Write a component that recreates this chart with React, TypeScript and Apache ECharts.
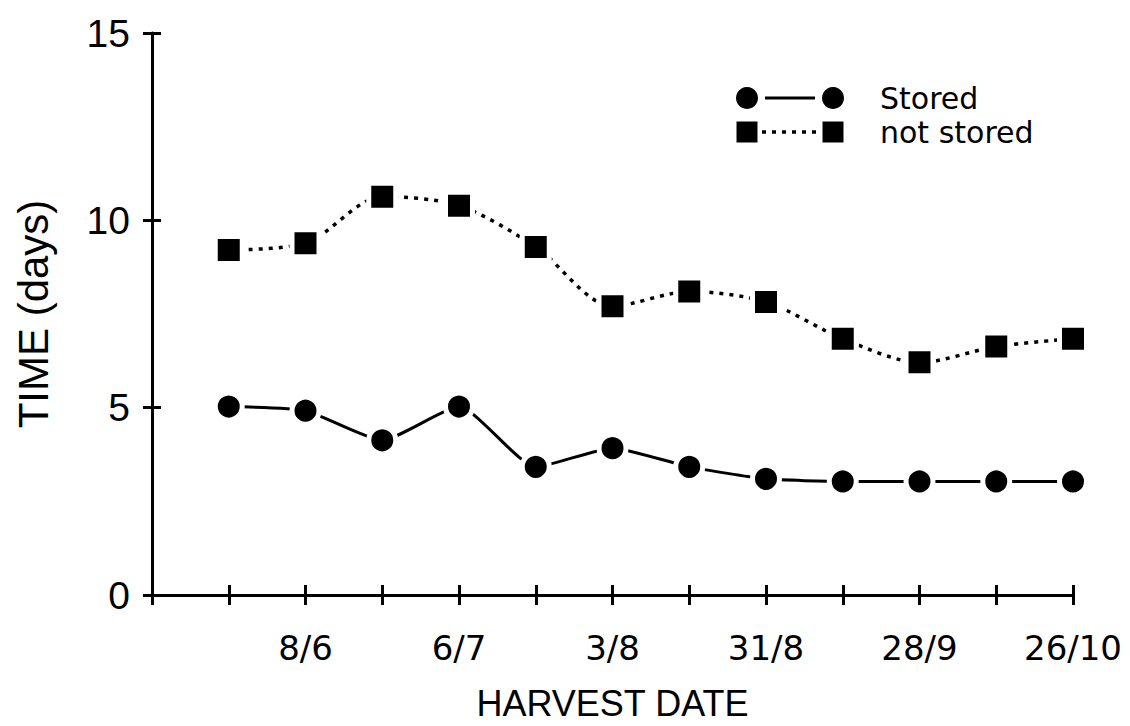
import React, { useEffect, useRef } from "react";
import * as echarts from "echarts";

const harvestPositions = [1, 2, 3, 4, 5, 6, 7, 8, 9, 10, 11, 12];
const xTickLabels = ["", "", "8/6", "", "6/7", "", "3/8", "", "31/8", "", "28/9", "", "26/10"];
const storedDays = [5.03, 4.92, 4.13, 5.03, 3.42, 3.92, 3.42, 3.1, 3.03, 3.03, 3.03, 3.03];
const notStoredDays = [9.21, 9.39, 10.63, 10.39, 9.29, 7.71, 8.1, 7.82, 6.84, 6.21, 6.63, 6.84];
const seriesNames = ["Stored", "not stored"];
const xAxisName = "HARVEST DATE";
const yAxisName = "TIME (days)";

const BLACK = "#000";

export default function App() {
  const ref = useRef<HTMLDivElement>(null);
  useEffect(() => {
    if (!ref.current) return;
    const chart = echarts.init(ref.current, null, { renderer: "svg" });
    const tickStyle = { color: BLACK, width: 3 };
    const xBase = {
      type: "value" as const,
      min: 0,
      max: 12,
      interval: 1,
      position: "bottom" as const,
      splitLine: { show: false },
    };
    const yBase = {
      type: "value" as const,
      min: 0,
      max: 15,
      interval: 5,
      position: "left" as const,
      splitLine: { show: false },
    };
    chart.setOption({
      animation: false,
      backgroundColor: "#fff",
      grid: { left: 152, top: 33, width: 921, height: 570, containLabel: false },
      xAxis: [
        {
          ...xBase,
          axisLine: { onZero: false, lineStyle: tickStyle },
          axisTick: { inside: false, length: 10, lineStyle: tickStyle },
          axisLabel: {
            formatter: (v: number) => xTickLabels[Math.round(v)] ?? "",
            color: BLACK,
            fontFamily: "DejaVu Sans",
            fontSize: 34,
            margin: 36,
          },
          name: xAxisName,
          nameLocation: "middle",
          nameGap: 90,
          nameTextStyle: { color: BLACK, fontFamily: "Liberation Sans", fontSize: 36 },
        },
        {
          ...xBase,
          axisLine: { show: false, onZero: false },
          axisTick: { inside: true, length: 10, lineStyle: tickStyle },
          axisLabel: { show: false },
        },
      ],
      yAxis: [
        {
          ...yBase,
          axisLine: { show: true, onZero: false, lineStyle: tickStyle },
          axisTick: { show: true, inside: false, length: 9, lineStyle: tickStyle },
          axisLabel: {
            color: BLACK,
            fontFamily: "Liberation Sans",
            fontSize: 39,
            margin: 22,
          },
          name: yAxisName,
          nameLocation: "middle",
          nameRotate: 90,
          nameGap: 98,
          nameTextStyle: { color: BLACK, fontFamily: "Liberation Sans", fontSize: 42 },
        },
        {
          ...yBase,
          axisLine: { show: false, onZero: false },
          axisTick: { show: true, inside: true, length: 9, lineStyle: tickStyle },
          axisLabel: { show: false },
        },
      ],
      series: [
        {
          type: "line",
          name: seriesNames[0],
          data: harvestPositions.map((x, i) => [x, storedDays[i]]),
          smooth: 0.18,
          symbol: "circle",
          symbolSize: 27,
          itemStyle: { color: BLACK, borderColor: "#fff", borderWidth: 5 },
          lineStyle: { color: BLACK, width: 3, type: "solid" },
          z: 3,
        },
        {
          type: "line",
          name: seriesNames[1],
          data: harvestPositions.map((x, i) => [x, notStoredDays[i]]),
          smooth: 0.3,
          symbol: "rect",
          symbolSize: 27,
          itemStyle: { color: BLACK, borderColor: "#fff", borderWidth: 5 },
          lineStyle: { color: BLACK, width: 3.5, type: [4, 6] },
          z: 3,
        },
      ],
      graphic: [
        {
          type: "group",
          children: [
            { type: "line", shape: { x1: 765, y1: 98, x2: 815, y2: 98 }, style: { stroke: BLACK, lineWidth: 3 } },
            { type: "circle", shape: { cx: 747, cy: 98, r: 11 }, style: { fill: BLACK } },
            { type: "circle", shape: { cx: 833, cy: 98, r: 11 }, style: { fill: BLACK } },
            {
              type: "text",
              x: 880,
              y: 98,
              style: { text: seriesNames[0], fill: BLACK, fontFamily: "DejaVu Sans", fontSize: 30, verticalAlign: "middle", align: "left" },
            },
            { type: "line", shape: { x1: 762, y1: 132, x2: 820, y2: 132 }, style: { stroke: BLACK, lineWidth: 3.5, lineDash: [4, 6] } },
            { type: "rect", shape: { x: 736.5, y: 121.5, width: 21, height: 21 }, style: { fill: BLACK } },
            { type: "rect", shape: { x: 822.5, y: 121.5, width: 21, height: 21 }, style: { fill: BLACK } },
            {
              type: "text",
              x: 880,
              y: 132,
              style: { text: seriesNames[1], fill: BLACK, fontFamily: "DejaVu Sans", fontSize: 30, verticalAlign: "middle", align: "left" },
            },
          ],
        },
      ],
    });
    return () => chart.dispose();
  }, []);
  return <div ref={ref} style={{ width: 1130, height: 726, margin: -8 }} />;
}
